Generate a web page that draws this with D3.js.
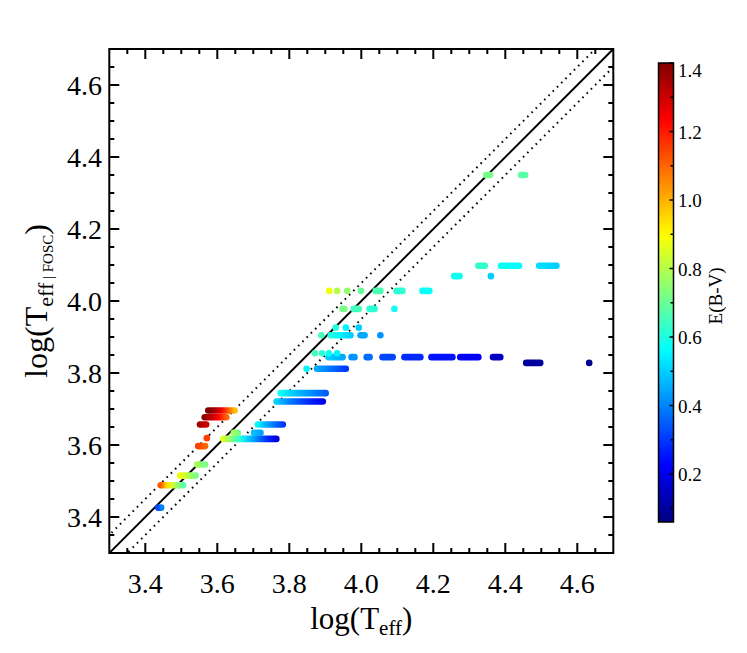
<!DOCTYPE html>
<html>
<head>
<meta charset="utf-8">
<script src="https://cdn.jsdelivr.net/npm/d3@7"></script>
<style>
  html, body { margin: 0; padding: 0; background: #fff; }
  text { font-family: "Liberation Serif", "DejaVu Serif", serif; fill: #000; }
</style>
</head>
<body>
<svg id="chart" width="747" height="653"></svg>
<script>
// ---------- data ----------
const xTicks = [3.4, 3.6, 3.8, 4.0, 4.2, 4.4, 4.6];
const yTicks = [3.4, 3.6, 3.8, 4.0, 4.2, 4.4, 4.6];
const cbTicks = [0.2, 0.4, 0.6, 0.8, 1.0, 1.2, 1.4];
const offsetBand = 0.05;   // dotted lines: y = x +/- offset

// streaks of overlapping points: [log T_FOSC, log T start, log T end, E(B-V) along the streak]
const streaks = [
  [3.426, 3.436, 3.444, [0.32, 0.40]],
  [3.488, 3.443, 3.505, [1.12, 0.95, 0.85, 0.75, 0.68]],
  [3.515, 3.497, 3.540, [0.88, 0.80, 0.72]],
  [3.546, 3.544, 3.566, [0.78, 0.72]],
  [3.597, 3.547, 3.566, [1.15, 1.10]],
  [3.619, 3.571, 3.571, [1.15]],
  [3.657, 3.552, 3.569, [1.35, 1.30]],
  [3.677, 3.565, 3.625, [1.38, 1.30, 1.22, 1.10]],
  [3.696, 3.575, 3.648, [1.40, 1.35, 1.25, 1.12, 0.98]],
  [3.617, 3.617, 3.764, [0.85, 0.72, 0.60, 0.48, 0.38, 0.28, 0.18]],
  [3.634, 3.646, 3.657, [0.78, 0.72]],
  [3.634, 3.702, 3.720, [0.48, 0.44]],
  [3.657, 3.713, 3.782, [0.55, 0.45, 0.38, 0.30]],
  [3.721, 3.765, 3.893, [0.50, 0.40, 0.33, 0.27, 0.20]],
  [3.744, 3.776, 3.901, [0.58, 0.50, 0.45, 0.40, 0.35]],
  [3.812, 3.848, 3.848, [0.55]],
  [3.812, 3.877, 3.957, [0.45, 0.40, 0.35, 0.30]],
  [3.844, 3.909, 3.948, [0.50, 0.45]],
  [3.844, 3.973, 3.981, [0.42]],
  [3.844, 4.015, 4.023, [0.37]],
  [3.844, 4.059, 4.087, [0.32]],
  [3.844, 4.120, 4.164, [0.28]],
  [3.844, 4.195, 4.253, [0.25]],
  [3.844, 4.275, 4.325, [0.22]],
  [3.844, 4.366, 4.386, [0.15]],
  [3.855, 3.871, 3.871, [0.65]],
  [3.855, 3.891, 3.891, [0.62]],
  [3.855, 3.910, 3.910, [0.58]],
  [3.855, 3.933, 3.933, [0.55]],
  [3.828, 4.458, 4.497, [0.10]],
  [3.828, 4.633, 4.633, [0.08]],
  [3.905, 3.889, 3.889, [0.65]],
  [3.905, 3.915, 3.970, [0.60, 0.55, 0.50]],
  [3.905, 3.998, 4.009, [0.45]],
  [3.905, 4.053, 4.053, [0.42]],
  [3.926, 3.929, 3.929, [0.60]],
  [3.926, 3.957, 3.957, [0.55]],
  [3.926, 3.993, 3.993, [0.50]],
  [3.978, 3.948, 3.953, [0.72]],
  [3.978, 3.979, 3.993, [0.65]],
  [3.978, 4.023, 4.037, [0.62]],
  [3.978, 4.092, 4.092, [0.58]],
  [4.028, 3.911, 3.911, [0.88]],
  [4.028, 3.933, 3.933, [0.80]],
  [4.028, 3.961, 3.961, [0.75]],
  [4.028, 3.999, 3.999, [0.70]],
  [4.028, 4.040, 4.053, [0.66]],
  [4.028, 4.098, 4.114, [0.62]],
  [4.028, 4.170, 4.189, [0.57]],
  [4.069, 4.258, 4.273, [0.58]],
  [4.069, 4.360, 4.360, [0.50]],
  [4.098, 4.325, 4.343, [0.63]],
  [4.098, 4.388, 4.438, [0.58, 0.56]],
  [4.098, 4.494, 4.542, [0.52, 0.50]],
  [4.350, 4.347, 4.358, [0.72]],
  [4.350, 4.444, 4.455, [0.68]]
];

// ---------- layout ----------
const svg = d3.select("#chart");
svg.append("rect").attr("width", 747).attr("height", 653).attr("fill", "#fff");

const x = d3.scaleLinear().domain([3.3, 4.7]).range([109.3, 613.3]);
const y = d3.scaleLinear().domain([3.3, 4.7]).range([553, 49]);
const cb = d3.scaleLinear().domain([0.06, 1.40]).range([522, 63]);

// jet colour map
function jet(t) {
  const c = v => Math.max(0, Math.min(1, v));
  const r = c(1.5 - Math.abs(4 * t - 3));
  const g = c(1.5 - Math.abs(4 * t - 2));
  const b = c(1.5 - Math.abs(4 * t - 1));
  return d3.rgb(r * 255, g * 255, b * 255).formatHex();
}
const color = e => jet((e - cb.domain()[0]) / (cb.domain()[1] - cb.domain()[0]));

const defs = svg.append("defs");
defs.append("clipPath").attr("id", "plotclip").append("rect")
  .attr("x", x(3.3)).attr("y", y(4.7))
  .attr("width", x(4.7) - x(3.3)).attr("height", y(3.3) - y(4.7));

const plot = svg.append("g").attr("clip-path", "url(#plotclip)");

// reference lines
const lineGen = d3.line().x(d => x(d[0])).y(d => y(d[1]));
const diag = [3.2, 4.8];
plot.append("path").attr("d", lineGen(diag.map(v => [v, v])))
  .attr("stroke", "#000").attr("stroke-width", 2).attr("fill", "none");
[offsetBand, -offsetBand].forEach(o => {
  plot.append("path").attr("d", lineGen(diag.map(v => [v, v + o])))
    .attr("stroke", "#000").attr("stroke-width", 2).attr("fill", "none")
    .attr("stroke-dasharray", "1.6,4.4");
});

// points (streaks)
const R = 3.3;
streaks.forEach((s, i) => {
  const [yy, x0, x1, es] = s;
  if (x0 === x1) {
    plot.append("circle").attr("cx", x(x0)).attr("cy", y(yy)).attr("r", R)
      .attr("fill", color(es[0]));
    return;
  }
  let stroke;
  if (es.length === 1) {
    stroke = color(es[0]);
  } else {
    const gid = "g" + i;
    const gr = defs.append("linearGradient").attr("id", gid)
      .attr("gradientUnits", "userSpaceOnUse")
      .attr("x1", x(x0)).attr("x2", x(x1)).attr("y1", 0).attr("y2", 0);
    es.forEach((e, k) => {
      gr.append("stop").attr("offset", k / (es.length - 1)).attr("stop-color", color(e));
    });
    stroke = `url(#${gid})`;
  }
  plot.append("line")
    .attr("x1", x(x0)).attr("x2", x(x1)).attr("y1", y(yy)).attr("y2", y(yy))
    .attr("stroke", stroke).attr("stroke-width", 2 * R).attr("stroke-linecap", "round");
});

// frame
svg.append("rect").attr("x", x(3.3)).attr("y", y(4.7))
  .attr("width", x(4.7) - x(3.3)).attr("height", y(3.3) - y(4.7))
  .attr("fill", "none").attr("stroke", "#000").attr("stroke-width", 2);

// ticks (inward, all sides)
const minor = d3.range(3.35, 4.70, 0.05).map(v => +v.toFixed(2));
const ticks = svg.append("g").attr("stroke", "#000").attr("stroke-width", 2);
minor.forEach(v => {
  const major = xTicks.some(t => Math.abs(t - v) < 1e-6);
  const L = major ? 10 : 5;
  ticks.append("line").attr("x1", x(v)).attr("x2", x(v)).attr("y1", y(3.3)).attr("y2", y(3.3) - L);
  ticks.append("line").attr("x1", x(v)).attr("x2", x(v)).attr("y1", y(4.7)).attr("y2", y(4.7) + L);
  const majorY = yTicks.some(t => Math.abs(t - v) < 1e-6);
  const Ly = majorY ? 10 : 5;
  ticks.append("line").attr("y1", y(v)).attr("y2", y(v)).attr("x1", x(3.3)).attr("x2", x(3.3) + Ly);
  ticks.append("line").attr("y1", y(v)).attr("y2", y(v)).attr("x1", x(4.7)).attr("x2", x(4.7) - Ly);
});

// tick labels
svg.append("g").selectAll("text").data(xTicks).join("text")
  .attr("x", d => x(d)).attr("y", 593).attr("text-anchor", "middle")
  .attr("font-size", 28).text(d => d.toFixed(1));
svg.append("g").selectAll("text").data(yTicks).join("text")
  .attr("x", 102).attr("y", d => y(d) + 9.5).attr("text-anchor", "end")
  .attr("font-size", 28).text(d => d.toFixed(1));

// axis titles
const xt = svg.append("text").attr("x", x(4.0)).attr("y", 629)
  .attr("text-anchor", "middle").attr("font-size", 31);
xt.append("tspan").text("log(T");
xt.append("tspan").attr("font-size", 21).attr("dy", 6).text("eff");
xt.append("tspan").attr("dy", -6).text(")");

const yt = svg.append("text")
  .attr("transform", `translate(47,${y(4.0)}) rotate(-90)`)
  .attr("text-anchor", "middle").attr("font-size", 32)
  .attr("xml:space", "preserve");
yt.append("tspan").text("log(T");
yt.append("tspan").attr("font-size", 22).attr("dy", 6).text("eff");
yt.append("tspan").attr("font-size", 15).text("\u00A0|\u00A0");
yt.append("tspan").attr("font-size", 15).text("FOSC");
yt.append("tspan").attr("dy", -6).text(")");

// ---------- colour bar ----------
const cbx = 658.5, cbw = 15;
const cg = defs.append("linearGradient").attr("id", "cbgrad")
  .attr("x1", 0).attr("x2", 0).attr("y1", 1).attr("y2", 0);
d3.range(0, 1.0001, 0.02).forEach(t => {
  cg.append("stop").attr("offset", t).attr("stop-color", jet(t));
});
svg.append("rect").attr("x", cbx).attr("y", cb(1.40)).attr("width", cbw)
  .attr("height", cb(0.06) - cb(1.40)).attr("fill", "url(#cbgrad)")
  .attr("stroke", "#000").attr("stroke-width", 1.5);

const cbMinor = d3.range(0.1, 1.41, 0.1).map(v => +v.toFixed(1));
cbMinor.forEach(v => {
  const major = cbTicks.some(t => Math.abs(t - v) < 1e-6);
  svg.append("line").attr("x1", cbx + cbw).attr("x2", cbx + cbw - (major ? 4 : 3))
    .attr("y1", cb(v)).attr("y2", cb(v)).attr("stroke", "#000").attr("stroke-width", 1.5);
});
svg.append("g").selectAll("text").data(cbTicks).join("text")
  .attr("x", 678).attr("y", d => Math.max(cb(d) + 7, 77)).attr("font-size", 19)
  .text(d => d.toFixed(1));
svg.append("text")
  .attr("transform", `translate(722,${cb(0.72)}) rotate(-90)`)
  .attr("text-anchor", "middle").attr("font-size", 19).text("E(B-V)");
</script>
</body>
</html>
